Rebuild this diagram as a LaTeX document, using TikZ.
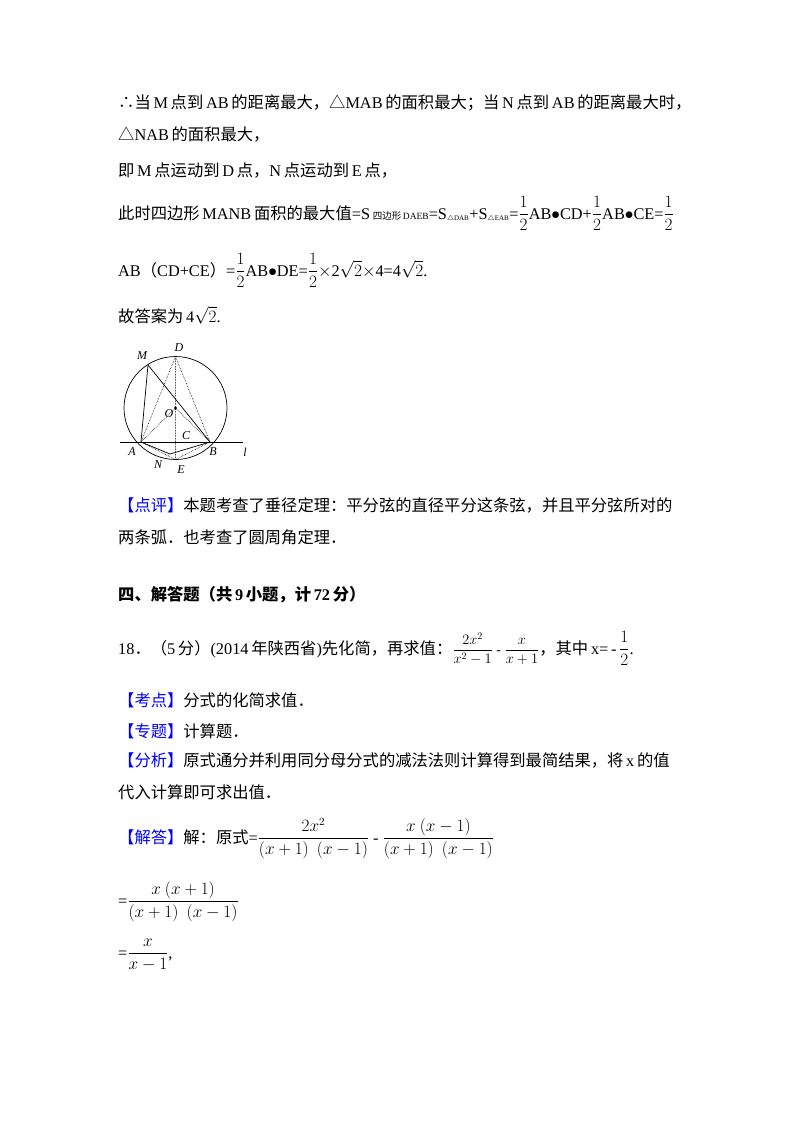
\documentclass[tikz,border=0pt]{standalone}
\usepackage{amsmath}
\usepackage{fontspec}
\setmainfont{Liberation Serif}
\newfontfamily\cjk{Noto Sans CJK SC}
\newcommand{\zh}[1]{{\cjk #1}}
\newcommand{\hf}{{\fontsize{16}{17}\selectfont$\dfrac{1}{2}$}}
\begin{document}
\begin{tikzpicture}[x=1pt,y=-1pt,
  txt/.style={anchor=base west,inner sep=0pt,font=\fontsize{16.3}{19}\selectfont},
  lab/.style={inner sep=0pt,font=\itshape\fontsize{12}{14}\selectfont},
  dot/.style={densely dotted,line width=0.6pt},
  sol/.style={line width=0.7pt}]
\useasboundingbox (0,0) rectangle (800,1132);
\fill[white] (0,0) rectangle (800,1132);
\node[txt] (t1) at (118,108) {\zh{∴当}\,M\,\zh{点到}\,AB\,\zh{的距离最大，△}MAB\,\zh{的面积最大；当}\,N\,\zh{点到}\,AB\,\zh{的距离最大时，}};
\node[txt] (t2) at (118,140) {\zh{△}NAB\,\zh{的面积最大，}};
\node[txt] (t3) at (118,176) {\zh{即}\,M\,\zh{点运动到}\,D\,\zh{点，}N\,\zh{点运动到}\,E\,\zh{点，}};
\node[txt] (t4) at (118,219) {\zh{此时四边形}\,MANB\,\zh{面积的最大值}=S\,{\fontsize{9.5}{10}\selectfont\zh{四边形}\,DAEB}=S{\fontsize{10}{10}\selectfont$_{\triangle\mathrm{DAB}}$}+S{\fontsize{10}{10}\selectfont$_{\triangle\mathrm{EAB}}$}=\hf AB$\bullet$CD+\hf AB$\bullet$CE=\hf};
\node[txt] (t5) at (118,276) {AB\zh{（}CD+CE\zh{）}=\hf AB$\bullet$DE=\hf$\times$2$\sqrt{2}$$\times$4=4$\sqrt{2}$.};
\node[txt] (t6) at (118,322) {\zh{故答案为}\,4$\sqrt{2}$.};
% figure
\coordinate (O) at (175.5,408);
\coordinate (D) at (175.5,356.5);
\coordinate (E) at (175.5,459.5);
\coordinate (C) at (175.5,442);
\coordinate (A) at (141,442);
\coordinate (B) at (210,442);
\coordinate (M) at (148,365);
\coordinate (N) at (170,454);
\coordinate (l1) at (120,442);
\coordinate (l2) at (243,442);
\draw[sol] (O) circle (51.5);
\draw[sol] (l1) -- (l2);
\draw[sol] (M) -- (A) -- (N) -- (B) -- (M);
\draw[dot] (D) -- (A) (D) -- (B) (D) -- (E) (O) -- (A) (O) -- (B) (A) -- (E) -- (B);
\fill (O) circle (1.6);
\node[lab] (lM) at (142,356) {M};
\node[lab] (lD) at (179,348) {D};
\node[lab] (lO) at (169,414) {O};
\node[lab] (lC) at (186,436) {C};
\node[lab] (lA) at (132,452) {A};
\node[lab] (lB) at (213,452) {B};
\node[lab] (lN) at (158,465) {N};
\node[lab] (lE) at (181,470) {E};
\node[lab] (ll) at (245,452) {l};
\node[txt] (p1) at (118,511) {\textcolor{blue}{\zh{【点评】}}\zh{本题考查了垂径定理：平分弦的直径平分这条弦，并且平分弦所对的}};
\node[txt] (p2) at (118,543) {\zh{两条弧．也考查了圆周角定理．}};
\node[txt] (h) at (118,600) {\zh{\bfseries 四、解答题（共}\,\textbf{9}\,\zh{\bfseries 小题，计}\,\textbf{72}\,\zh{\bfseries 分）}};
\node[txt] (q) at (118,654) {18\zh{．（}5\,\zh{分）}(2014\,\zh{年陕西省})\zh{先化简，再求值：}{\fontsize{14}{15}\selectfont$\dfrac{2x^2}{x^2-1}$\ -\ $\dfrac{x}{x+1}$}\zh{，其中}\,x=\,-\,\hf.};
\node[txt] (k1) at (118,706) {\textcolor{blue}{\zh{【考点】}}\zh{分式的化简求值．}};
\node[txt] (k2) at (118,737) {\textcolor{blue}{\zh{【专题】}}\zh{计算题．}};
\node[txt] (k3) at (118,766) {\textcolor{blue}{\zh{【分析】}}\zh{原式通分并利用同分母分式的减法法则计算得到最简结果，将}\,x\,\zh{的值}};
\node[txt] (k4) at (118,798) {\zh{代入计算即可求出值．}};
\node[txt] (s1) at (118,843) {\textcolor{blue}{\zh{【解答】}}\zh{解：原式}=$\dfrac{\qquad 2x^2\qquad}{(x+1)\ \ (x-1)}$ - $\dfrac{x\ (x-1)}{(x+1)\ \ (x-1)}$};
\node[txt] (s2) at (118,906) {=$\dfrac{x\ (x+1)}{(x+1)\ \ (x-1)}$};
\node[txt] (s3) at (118,958) {=$\dfrac{x}{x-1}$,};
\end{tikzpicture}
\end{document}
